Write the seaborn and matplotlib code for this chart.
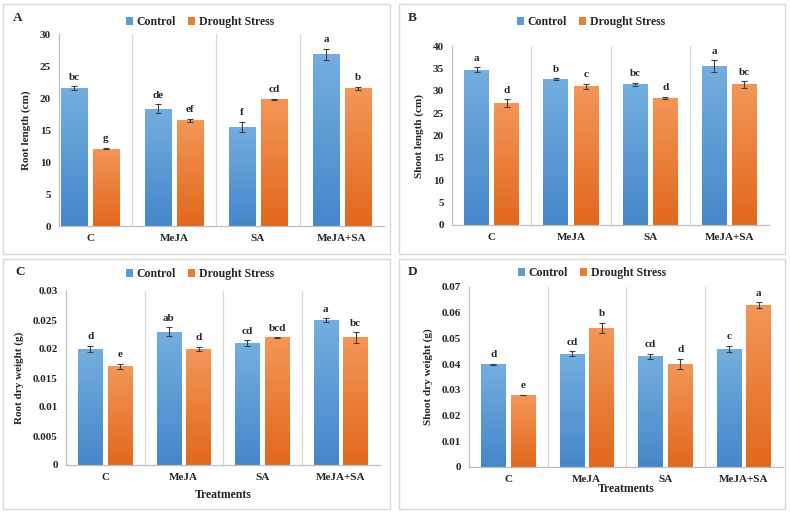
import numpy as np
import pandas as pd
import matplotlib
matplotlib.use("Agg")
import matplotlib.pyplot as plt
import seaborn as sns
from matplotlib.patches import Rectangle, Patch
from matplotlib.colors import LinearSegmentedColormap

# data
treatments = ["C", "MeJA", "SA", "MeJA+SA"]
groups = ["Control", "Drought Stress"]

root_len_ctrl = [21.5, 18.3, 15.5, 26.8]
root_len_ctrl_err = [0.3, 0.7, 0.8, 0.9]
root_len_dro = [12.1, 16.5, 19.8, 21.5]
root_len_dro_err = [0.1, 0.2, 0.1, 0.2]
root_len_let_ctrl = ["bc", "de", "f", "a"]
root_len_let_dro = ["g", "ef", "cd", "b"]

shoot_len_ctrl = [34.7, 32.6, 31.4, 35.5]
shoot_len_ctrl_err = [0.5, 0.2, 0.4, 1.3]
shoot_len_dro = [27.2, 31.0, 28.4, 31.4]
shoot_len_dro_err = [0.9, 0.6, 0.3, 0.7]
shoot_len_let_ctrl = ["a", "b", "bc", "a"]
shoot_len_let_dro = ["d", "c", "d", "bc"]

root_dw_ctrl = [0.020, 0.023, 0.021, 0.025]
root_dw_ctrl_err = [0.0006, 0.0008, 0.0005, 0.0003]
root_dw_dro = [0.017, 0.020, 0.022, 0.022]
root_dw_dro_err = [0.0005, 0.0004, 0.00005, 0.0009]
root_dw_let_ctrl = ["d", "ab", "cd", "a"]
root_dw_let_dro = ["e", "d", "bcd", "bc"]

shoot_dw_ctrl = [0.040, 0.044, 0.043, 0.046]
shoot_dw_ctrl_err = [0.0002, 0.001, 0.001, 0.0012]
shoot_dw_dro = [0.028, 0.054, 0.040, 0.063]
shoot_dw_dro_err = [0.0001, 0.002, 0.002, 0.001]
shoot_dw_let_ctrl = ["d", "cd", "cd", "c"]
shoot_dw_let_dro = ["e", "b", "d", "a"]

W, H = 790, 514
sns.set_style("white")
plt.rcParams["font.family"] = ["Liberation Serif", "DejaVu Serif"]
plt.rcParams["font.weight"] = "bold"

colors = {"Control": "#5B9BD5", "Drought Stress": "#ED7D31"}
# excel-like vertical gradient (bottom, top)
grads = [("#4587CA", "#74AEE0"), ("#E2681C", "#F39657")]

fig = plt.figure(figsize=(W / 100, H / 100), dpi=100)

def px_axes(l, r, t, b):
    return fig.add_axes([l / W, 1 - b / H, (r - l) / W, (b - t) / H])

panels = [
    dict(tag="A", box=(3, 390, 4, 254), ax=(59, 384, 34, 226), x0=-0.37, ymax=30, step=5,
         ylabel="Root length (cm)", xlabel=None, xpad=0, leg=(200, 22), tagpos=(13, 18),
         ctrl=root_len_ctrl, ce=root_len_ctrl_err, dro=root_len_dro, de=root_len_dro_err,
         lc=root_len_let_ctrl, ld=root_len_let_dro),
    dict(tag="B", box=(399, 785, 4, 254), ax=(452, 769, 46, 225), x0=-0.5, ymax=40, step=5,
         ylabel="Shoot length (cm)", xlabel=None, xpad=0, leg=(591, 22), tagpos=(408, 18),
         ctrl=shoot_len_ctrl, ce=shoot_len_ctrl_err, dro=shoot_len_dro, de=shoot_len_dro_err,
         lc=shoot_len_let_ctrl, ld=shoot_len_let_dro),
    dict(tag="C", box=(3, 390, 259, 509), ax=(66, 380, 291, 465), x0=-0.5, ymax=0.03, step=0.005,
         ylabel="Root dry weight (g)", xlabel="Treatments", xpad=5, leg=(200, 274), tagpos=(15, 272),
         ctrl=root_dw_ctrl, ce=root_dw_ctrl_err, dro=root_dw_dro, de=root_dw_dro_err,
         lc=root_dw_let_ctrl, ld=root_dw_let_dro),
    dict(tag="D", box=(399, 785, 259, 509), ax=(469, 783, 287, 467), x0=-0.5, ymax=0.07, step=0.01,
         ylabel="Shoot dry weight (g)", xlabel="Treatments", xpad=-1, leg=(592, 273), tagpos=(408, 272),
         ctrl=shoot_dw_ctrl, ce=shoot_dw_ctrl_err, dro=shoot_dw_dro, de=shoot_dw_dro_err,
         lc=shoot_dw_let_ctrl, ld=shoot_dw_let_dro),
]

ramp = np.linspace(0, 1, 64).reshape(-1, 1)

for p in panels:
    # panel frame
    l, r, t, b = p["box"]
    fig.patches.append(Rectangle((l / W, 1 - b / H), (r - l) / W, (b - t) / H,
                                 transform=fig.transFigure, fill=False,
                                 edgecolor="#D9D9D9", linewidth=1.0))
    ax = px_axes(*p["ax"])
    df = pd.DataFrame({
        "Treatment": treatments * 2,
        "Group": [groups[0]] * 4 + [groups[1]] * 4,
        "value": list(p["ctrl"]) + list(p["dro"]),
    })
    sns.barplot(data=df, x="Treatment", y="value", hue="Group", order=treatments,
                hue_order=groups, palette=colors, errorbar=None, width=0.76, gap=0.18,
                saturation=1, ax=ax, legend=False)
    errs = [p["ce"], p["de"]]
    lets = [p["lc"], p["ld"]]
    off = p["ymax"] * 0.025
    for cont, err, let, (cb, ct) in zip(ax.containers, errs, lets, grads):
        cmap = LinearSegmentedColormap.from_list("g", [cb, ct])
        for bar in cont:
            bx, bw, bh = bar.get_x(), bar.get_width(), bar.get_height()
            im = ax.imshow(ramp, extent=[bx, bx + bw, 0, bh], origin="lower",
                           aspect="auto", cmap=cmap, zorder=1.5)
            im.set_clip_path(bar)
        xs = [bar.get_x() + bar.get_width() / 2 for bar in cont]
        ys = [bar.get_height() for bar in cont]
        ax.errorbar(xs, ys, yerr=err, fmt="none", ecolor="#404040", elinewidth=0.8,
                    capsize=2.5, capthick=0.8, zorder=3)
        for x, y, e, s in zip(xs, ys, err, let):
            ax.text(x, y + e + off, s, ha="center", va="bottom", fontsize=8, fontweight="bold")
    for xv in [0.5, 1.5, 2.5]:
        ax.axvline(xv, color="#D9D9D9", linewidth=0.9, zorder=0)
    ax.set_xlim(p["x0"], 3.5)
    ax.set_ylim(0, p["ymax"])
    ticks = np.arange(0, p["ymax"] + p["step"] / 2, p["step"])
    ax.set_yticks(ticks)
    ax.set_yticklabels(["{:g}".format(round(v, 4)) for v in ticks])
    ax.tick_params(axis="both", length=0, labelsize=8, pad=6)
    for lab in ax.get_xticklabels() + ax.get_yticklabels():
        lab.set_fontweight("bold")
    ax.set_ylabel(p["ylabel"], fontsize=8, fontweight="bold", labelpad=6)
    if p["xlabel"]:
        ax.set_xlabel(p["xlabel"], fontsize=8.5, fontweight="bold", labelpad=p["xpad"])
    else:
        ax.set_xlabel("")
    for side in ["top", "right"]:
        ax.spines[side].set_visible(False)
    for side in ["left", "bottom"]:
        ax.spines[side].set_color("#BFBFBF")
        ax.spines[side].set_linewidth(0.9)
    handles = [Patch(facecolor=colors[g], edgecolor="none") for g in groups]
    lx, ly = p["leg"]
    fig.legend(handles, groups, loc="center", bbox_to_anchor=(lx / W, 1 - ly / H), ncol=2,
               frameon=False, handlelength=0.6, handleheight=0.6,
               handletextpad=0.3, columnspacing=1.0, prop={"weight": "bold", "size": 8.5})
    tx, ty = p["tagpos"]
    fig.text(tx / W, 1 - ty / H, p["tag"], fontsize=9.5, fontweight="bold", va="center")

fig.savefig("out.png", dpi=100)
